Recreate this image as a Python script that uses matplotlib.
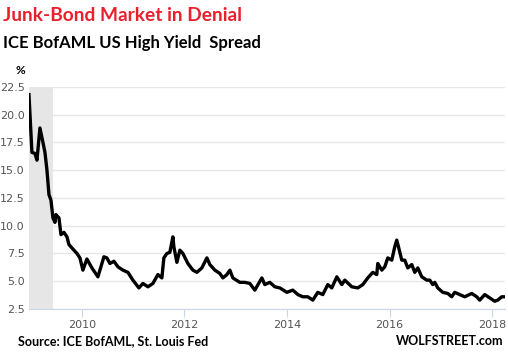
import matplotlib
matplotlib.use("Agg")
import matplotlib.pyplot as plt

# decimal year, spread in %
years = [
    2008.967, 2009.025, 2009.084, 2009.123, 2009.181, 2009.240, 2009.279, 2009.318,
    2009.357, 2009.396, 2009.435, 2009.474, 2009.493, 2009.552, 2009.591, 2009.649,
    2009.708, 2009.747, 2009.805, 2009.903, 2009.961, 2010.019, 2010.097, 2010.195,
    2010.312, 2010.390, 2010.429, 2010.487, 2010.546, 2010.624, 2010.702, 2010.799,
    2010.897, 2010.994, 2011.111, 2011.189, 2011.287, 2011.384, 2011.481, 2011.559,
    2011.598, 2011.657, 2011.715, 2011.774, 2011.793, 2011.852, 2011.910, 2011.969,
    2012.066, 2012.164, 2012.242, 2012.339, 2012.437, 2012.495, 2012.593, 2012.690,
    2012.749, 2012.827, 2012.885, 2012.943, 2013.080, 2013.177, 2013.275, 2013.372,
    2013.509, 2013.567, 2013.665, 2013.762, 2013.860, 2013.996, 2014.113, 2014.211,
    2014.308, 2014.405, 2014.503, 2014.600, 2014.698, 2014.795, 2014.873, 2014.971,
    2015.068, 2015.127, 2015.263, 2015.380, 2015.478, 2015.575, 2015.673, 2015.750,
    2015.770, 2015.848, 2015.906, 2015.965, 2016.043, 2016.101, 2016.140, 2016.179,
    2016.238, 2016.296, 2016.355, 2016.433, 2016.491, 2016.550, 2016.628, 2016.725,
    2016.784, 2016.842, 2016.881, 2016.940, 2017.037, 2017.135, 2017.212, 2017.271,
    2017.368, 2017.466, 2017.602, 2017.700, 2017.758, 2017.856, 2017.953, 2018.051,
    2018.109, 2018.187, 2018.246,
]
spread = [
    21.8, 16.6, 16.5, 15.9, 18.8, 17.5, 16.6, 15.0,
    12.8, 12.3, 10.7, 10.3, 11.0, 10.7, 9.2, 9.4,
    9.0, 8.3, 8.0, 7.5, 7.1, 6.0, 7.0, 6.2,
    5.4, 6.6, 7.2, 7.1, 6.6, 6.8, 6.3, 6.0,
    5.8, 5.1, 4.4, 4.8, 4.5, 4.8, 5.6, 5.3,
    7.1, 7.5, 7.6, 9.0, 8.1, 6.7, 7.8, 7.5,
    6.6, 6.0, 5.8, 6.2, 7.1, 6.5, 6.0, 5.7,
    5.3, 5.6, 6.0, 5.3, 4.9, 4.9, 4.8, 4.2,
    5.3, 4.7, 4.9, 4.5, 4.4, 4.0, 4.2, 3.8,
    3.6, 3.6, 3.3, 4.0, 3.8, 4.7, 4.4, 5.4,
    4.7, 5.1, 4.5, 4.4, 4.7, 5.3, 5.8, 5.6,
    6.6, 6.0, 6.3, 7.1, 6.9, 8.1, 8.7, 8.0,
    6.9, 6.9, 6.2, 6.5, 5.8, 6.2, 5.4, 5.1,
    5.1, 4.7, 4.9, 4.4, 4.0, 3.9, 3.6, 4.0,
    3.8, 3.6, 3.9, 3.6, 3.3, 3.8, 3.5, 3.2,
    3.3, 3.6, 3.6,
]
recession = (2008.967, 2009.43)
yticks = [2.5, 5.0, 7.5, 10.0, 12.5, 15.0, 17.5, 20.0, 22.5]
xticks = [2010, 2012, 2014, 2016, 2018]

fig = plt.figure(figsize=(5.08, 3.56), dpi=100)
ax = fig.add_axes([0.057, 0.132, 0.937, 0.624])

ax.axvspan(*recession, color="#e6e6e6", lw=0, zorder=0)
ax.plot(years, spread, color="black", lw=2.4, zorder=3)

ax.set_xlim(2008.967, 2018.25)
ax.set_ylim(2.5, 22.5)
ax.set_yticks(yticks)
ax.set_yticklabels([f"{v:.1f}" for v in yticks])
ax.set_xticks(xticks)
ax.grid(axis="y", color="#e6e6e6", lw=1)
ax.set_axisbelow(True)
for s in ["top", "right", "left"]:
    ax.spines[s].set_visible(False)
ax.spines["bottom"].set_color("#ccd6eb")
ax.tick_params(axis="y", length=0, pad=3, labelsize=8, labelcolor="#555555")
ax.tick_params(axis="x", length=6, color="#ccd6eb", pad=2, labelsize=8, labelcolor="#555555")

fig.text(0.006, 0.957, "Junk-Bond Market in Denial", color="#e8212e",
         fontsize=13.8, fontweight="bold", family="Lato", va="center")
fig.text(0.006, 0.878, "ICE BofAML US High Yield  Spread", color="black",
         fontsize=12, fontweight="bold", family="Lato", va="center")
fig.text(0.031, 0.803, "%", fontsize=8.5, fontweight="bold", family="Lato", va="center")
fig.text(0.035, 0.042, "Source: ICE BofAML, St. Louis Fed", fontsize=9,
         fontweight="bold", family="Lato", va="center")
fig.text(0.99, 0.042, "WOLFSTREET.com", fontsize=9, fontweight="bold",
         family="Lato", va="center", ha="right")

fig.savefig("out.png", dpi=100)
